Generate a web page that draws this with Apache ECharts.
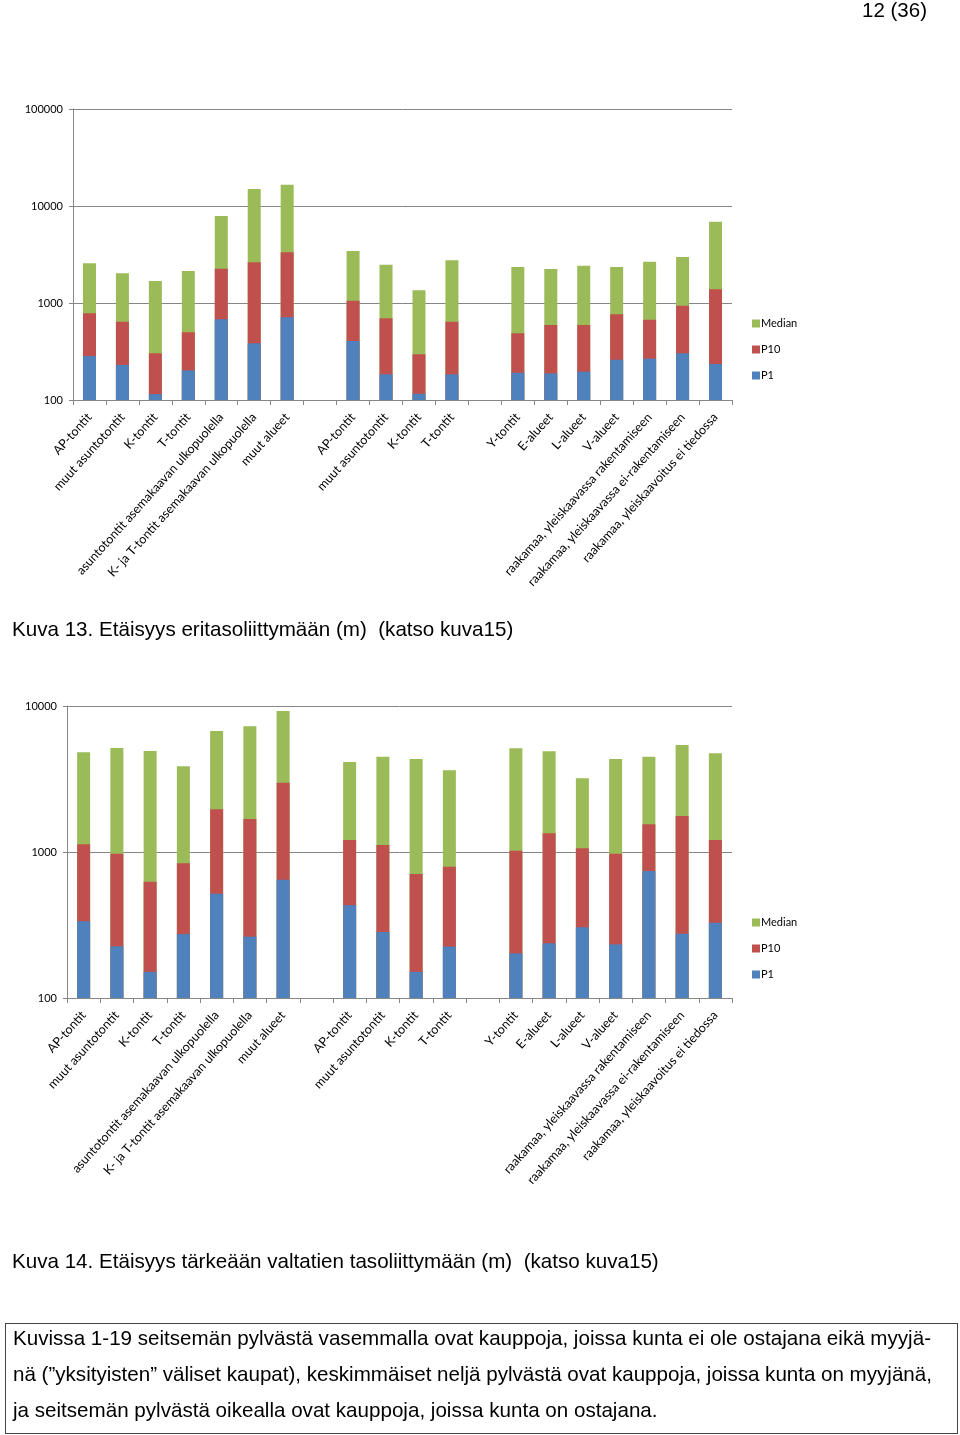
<!DOCTYPE html>
<html>
<head>
<meta charset="utf-8">
<script src="https://cdn.jsdelivr.net/npm/echarts@6/dist/echarts.min.js"></script>
<style>
  html, body { margin: 0; padding: 0; background: #fff; }
  #wrap { position: relative; width: 960px; height: 1435px; overflow: hidden; }
  #chart { position: absolute; left: 0; top: 0; width: 960px; height: 1435px; }
  #note { position: absolute; left: 5px; top: 1323px; width: 951px; height: 109px;
          border: 1px solid #444; font-family: "Liberation Sans", Arial, sans-serif;
          font-size: 20.6px; color: #000; }
  #note .ln { position: absolute; left: 7px; height: 36px; line-height: 36px; white-space: nowrap; }
</style>
</head>
<body>
<div id="wrap">
  <div id="chart"></div>
  <div id="note">
    <div class="ln" data-w="918" style="top:-4px">Kuvissa 1-19 seitsemän pylvästä vasemmalla ovat kauppoja, joissa kunta ei ole ostajana eikä myyjä-</div>
    <div class="ln" data-w="919" style="top:32px">nä (”yksityisten” väliset kaupat), keskimmäiset neljä pylvästä ovat kauppoja, joissa kunta on myyjänä,</div>
    <div class="ln" style="top:68px">ja seitsemän pylvästä oikealla ovat kauppoja, joissa kunta on ostajana.</div>
  </div>
</div>
<script>
// ---- data ----
const categories = [
  'AP-tontit', 'muut asuntotontit', 'K-tontit', 'T-tontit',
  'asuntotontit asemakaavan ulkopuolella', 'K- ja T-tontit asemakaavan ulkopuolella', 'muut alueet',
  '',
  'AP-tontit', 'muut asuntotontit', 'K-tontit', 'T-tontit',
  '',
  'Y-tontit', 'E-alueet', 'L-alueet', 'V-alueet',
  'raakamaa, yleiskaavassa rakentamiseen', 'raakamaa, yleiskaavassa ei-rakentamiseen',
  'raakamaa, yleiskaavoitus ei tiedossa'
];
const seriesNames = ['Median', 'P10', 'P1'];

// Kuva 13 (segment tops)
const c1P1  = [284, 230, 115, 202, 679, 384, 712, null, 406, 184, 116, 184, null, 191, 188, 196, 260, 267, 303, 235];
const c1P10 = [783, 641, 303, 499, 2259, 2627, 3333, null, 1057, 695, 296, 641, null, 487, 593, 593, 764, 673, 938, 1384];
const c1Med = [2566, 2023, 1686, 2138, 7880, 14970, 16590, null, 3436, 2484, 1352, 2754, null, 2351, 2242, 2426, 2351, 2666, 2980, 6890];

// Kuva 14 (segment tops)
const c2P1  = [335, 226, 151, 274, 518, 263, 646, null, 431, 283, 151, 225, null, 202, 237, 305, 233, 741, 276, 328];
const c2P10 = [1129, 973, 626, 836, 1960, 1683, 2984, null, 1208, 1117, 707, 793, null, 1021, 1343, 1060, 973, 1548, 1765, 1208];
const c2Med = [4819, 5158, 4918, 3864, 6745, 7259, 9246, null, 4133, 4496, 4335, 3628, null, 5129, 4893, 3198, 4335, 4496, 5407, 4742];

const yTicks1 = [100, 1000, 10000, 100000];
const yTicks2 = [100, 1000, 10000];

const captions = [
  'Kuva 13. Etäisyys eritasoliittymään (m)  (katso kuva15)',
  'Kuva 14. Etäisyys tärkeään valtatien tasoliittymään (m)  (katso kuva15)'
];
const pageNumber = '12 (36)';

// ---- justify the note lines by word spacing ----
(function () {
  const ctx = document.createElement('canvas').getContext('2d');
  ctx.font = '20.6px "Liberation Sans", Arial, sans-serif';
  document.querySelectorAll('#note .ln[data-w]').forEach(el => {
    const t = el.textContent;
    const target = +el.dataset.w;
    const natural = ctx.measureText(t).width;
    const spaces = (t.match(/ /g) || []).length;
    if (spaces) el.style.wordSpacing = ((target - natural) / spaces).toFixed(3) + 'px';
  });
})();

// ---- chart ----
const colors = { 'Median': '#9BBB59', 'P10': '#C0504D', 'P1': '#4F81BD' };
const labelFont = 'Lato, "Liberation Sans", sans-serif';
const pageFont = '"Liberation Sans", Arial, sans-serif';

function xAxis(gi) {
  return {
    type: 'category', gridIndex: gi, data: categories, boundaryGap: true,
    axisLine: { lineStyle: { color: '#868686', width: 1 } },
    axisTick: { show: true, interval: 0, length: 5, lineStyle: { color: '#868686' } },
    axisLabel: { interval: 0, rotate: 48, fontSize: 12.5, color: '#000', fontFamily: labelFont, margin: 15 },
    splitLine: { show: false }
  };
}
function yAxis(gi, maxV) {
  return {
    type: 'log', logBase: 10, gridIndex: gi, min: 100, max: maxV,
    axisLine: { show: true, lineStyle: { color: '#868686', width: 1 } },
    axisTick: { show: true, length: 4, lineStyle: { color: '#868686' } },
    minorTick: { show: false },
    axisLabel: { fontSize: 11, color: '#000', fontFamily: labelFont, margin: 10,
      formatter: v => String(Math.round(v)) },
    splitLine: { show: true, lineStyle: { color: '#868686', width: 1 } }
  };
}
function bars(gi, data, name) {
  return {
    type: 'bar', name: name, xAxisIndex: gi, yAxisIndex: gi, data: data,
    barWidth: 13, barGap: '-100%', clip: true,
    itemStyle: { color: colors[name] }, emphasis: { disabled: true }
  };
}
function legend(top) {
  return {
    orient: 'vertical', left: 752, top: top, data: seriesNames, padding: 0,
    icon: 'rect', itemWidth: 8, itemHeight: 8, itemGap: 15,
    textStyle: { fontSize: 11, color: '#000', fontFamily: labelFont, padding: [0, 0, 0, -4] },
    selectedMode: false
  };
}

const chart = echarts.init(document.getElementById('chart'), null, { renderer: 'canvas' });
chart.setOption({
  animation: false,
  backgroundColor: '#fff',
  grid: [
    { left: 73, top: 109, width: 659, height: 291, containLabel: false, outerBoundsMode: 'none' },
    { left: 67, top: 706, width: 665, height: 292, containLabel: false, outerBoundsMode: 'none' }
  ],
  xAxis: [xAxis(0), xAxis(1)],
  yAxis: [yAxis(0, yTicks1[yTicks1.length - 1]), yAxis(1, yTicks2[yTicks2.length - 1])],
  legend: [legend(318), legend(917)],
  series: [
    bars(0, c1Med, 'Median'), bars(0, c1P10, 'P10'), bars(0, c1P1, 'P1'),
    bars(1, c2Med, 'Median'), bars(1, c2P10, 'P10'), bars(1, c2P1, 'P1')
  ],
  graphic: [
    { type: 'text', right: 33, top: 1, style: { text: pageNumber, font: '20.5px ' + pageFont, fill: '#000' } },
    { type: 'text', left: 12, top: 620, style: { text: captions[0], font: '20.6px ' + pageFont, fill: '#000' } },
    { type: 'text', left: 12, top: 1252, style: { text: captions[1], font: '20.6px ' + pageFont, fill: '#000' } }
  ]
});
</script>
</body>
</html>
